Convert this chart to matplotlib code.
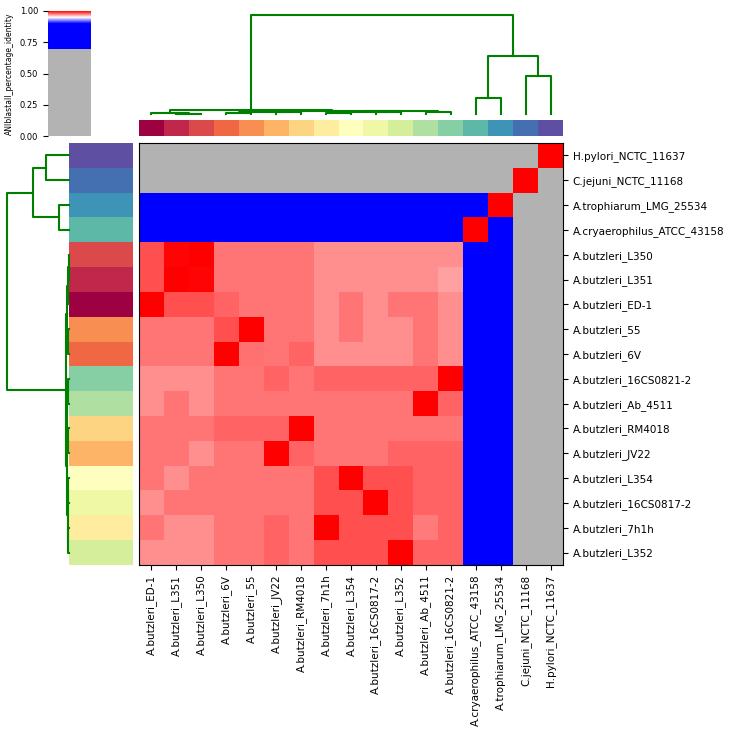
import numpy as np
import matplotlib
matplotlib.use("Agg")
import matplotlib.pyplot as plt
from matplotlib.colors import LinearSegmentedColormap, Normalize
from matplotlib.cm import ScalarMappable

# genome labels, in the order they appear on each axis
col_labels = [
    "A.butzleri_ED-1", "A.butzleri_L351", "A.butzleri_L350", "A.butzleri_6V",
    "A.butzleri_55", "A.butzleri_JV22", "A.butzleri_RM4018", "A.butzleri_7h1h",
    "A.butzleri_L354", "A.butzleri_16CS0817-2", "A.butzleri_L352",
    "A.butzleri_Ab_4511", "A.butzleri_16CS0821-2", "A.cryaerophilus_ATCC_43158",
    "A.trophiarum_LMG_25534", "C.jejuni_NCTC_11168", "H.pylori_NCTC_11637",
]
row_labels = [
    "H.pylori_NCTC_11637", "C.jejuni_NCTC_11168", "A.trophiarum_LMG_25534",
    "A.cryaerophilus_ATCC_43158", "A.butzleri_L350", "A.butzleri_L351",
    "A.butzleri_ED-1", "A.butzleri_55", "A.butzleri_6V", "A.butzleri_16CS0821-2",
    "A.butzleri_Ab_4511", "A.butzleri_RM4018", "A.butzleri_JV22",
    "A.butzleri_L354", "A.butzleri_16CS0817-2", "A.butzleri_7h1h",
    "A.butzleri_L352",
]

# ANIb percentage identity (rows x cols, as displayed)
G = 0.68
ani = [
    [G, G, G, G, G, G, G, G, G, G, G, G, G, G, G, G, 1.0],
    [G, G, G, G, G, G, G, G, G, G, G, G, G, G, G, 1.0, G],
    [0.78] * 13 + [0.80, 1.0, G, G],
    [0.79] * 13 + [1.0, 0.80, G, G],
    [0.984, 0.999, 1.0, 0.977, 0.977, 0.977, 0.977, 0.972, 0.972, 0.972, 0.972, 0.972, 0.972, 0.79, 0.78, G, G],
    [0.984, 1.0, 0.999, 0.977, 0.977, 0.977, 0.977, 0.972, 0.972, 0.972, 0.972, 0.972, 0.968, 0.79, 0.78, G, G],
    [1.0, 0.984, 0.984, 0.980, 0.977, 0.977, 0.977, 0.972, 0.977, 0.972, 0.977, 0.977, 0.972, 0.79, 0.78, G, G],
    [0.977, 0.977, 0.977, 0.984, 1.0, 0.977, 0.977, 0.972, 0.977, 0.972, 0.972, 0.977, 0.972, 0.79, 0.78, G, G],
    [0.977, 0.977, 0.977, 1.0, 0.978, 0.977, 0.980, 0.972, 0.972, 0.972, 0.972, 0.977, 0.972, 0.79, 0.78, G, G],
    [0.972, 0.972, 0.972, 0.977, 0.977, 0.980, 0.977, 0.980, 0.980, 0.980, 0.980, 0.980, 1.0, 0.79, 0.78, G, G],
    [0.972, 0.977, 0.972, 0.977, 0.977, 0.977, 0.977, 0.977, 0.977, 0.977, 0.977, 1.0, 0.980, 0.79, 0.78, G, G],
    [0.977, 0.977, 0.977, 0.980, 0.980, 0.980, 1.0, 0.977, 0.977, 0.977, 0.977, 0.977, 0.977, 0.79, 0.78, G, G],
    [0.977, 0.977, 0.972, 0.977, 0.977, 1.0, 0.980, 0.977, 0.977, 0.977, 0.980, 0.980, 0.980, 0.79, 0.78, G, G],
    [0.977, 0.972, 0.977, 0.977, 0.977, 0.977, 0.977, 0.984, 1.0, 0.984, 0.984, 0.980, 0.980, 0.79, 0.78, G, G],
    [0.972, 0.977, 0.977, 0.977, 0.977, 0.977, 0.977, 0.984, 0.984, 1.0, 0.984, 0.980, 0.980, 0.79, 0.78, G, G],
    [0.977, 0.972, 0.972, 0.977, 0.977, 0.980, 0.977, 1.0, 0.984, 0.984, 0.984, 0.976, 0.980, 0.79, 0.78, G, G],
    [0.972, 0.972, 0.972, 0.977, 0.977, 0.980, 0.977, 0.984, 0.984, 0.984, 1.0, 0.980, 0.980, 0.79, 0.78, G, G],
]

# dendrogram merges: (child, child, height); ints refer to earlier merges
col_tree = [
    ("A.butzleri_L351", "A.butzleri_L350", 0.003),
    ("A.butzleri_ED-1", 0, 0.012),
    ("A.butzleri_6V", "A.butzleri_55", 0.015),
    ("A.butzleri_JV22", "A.butzleri_RM4018", 0.018),
    (2, 3, 0.025),
    ("A.butzleri_7h1h", "A.butzleri_L354", 0.015),
    ("A.butzleri_16CS0817-2", "A.butzleri_L352", 0.016),
    (5, 6, 0.021),
    ("A.butzleri_Ab_4511", "A.butzleri_16CS0821-2", 0.02),
    (7, 8, 0.028),
    (4, 9, 0.034),
    (1, 10, 0.04),
    ("A.cryaerophilus_ATCC_43158", "A.trophiarum_LMG_25534", 0.162),
    ("C.jejuni_NCTC_11168", "H.pylori_NCTC_11637", 0.384),
    (12, 13, 0.586),
    (11, 14, 1.0),
]
row_tree = [
    ("H.pylori_NCTC_11637", "C.jejuni_NCTC_11168", 0.37),
    ("A.trophiarum_LMG_25534", "A.cryaerophilus_ATCC_43158", 0.16),
    (0, 1, 0.58),
    ("A.butzleri_L350", "A.butzleri_L351", 0.003),
    (3, "A.butzleri_ED-1", 0.012),
    ("A.butzleri_55", "A.butzleri_6V", 0.015),
    (4, 5, 0.03),
    ("A.butzleri_16CS0821-2", "A.butzleri_Ab_4511", 0.02),
    ("A.butzleri_RM4018", "A.butzleri_JV22", 0.018),
    (7, 8, 0.028),
    ("A.butzleri_L354", "A.butzleri_16CS0817-2", 0.015),
    ("A.butzleri_7h1h", "A.butzleri_L352", 0.016),
    (10, 11, 0.022),
    (9, 12, 0.034),
    (6, 13, 0.045),
    (2, 14, 1.0),
]

# pyani style colour map: grey < 0.7, blue to 0.9, white at 0.95, red at 1.0
cdict = {
    "red": ((0.0, 0.0, 0.7), (0.7, 0.7, 0.0), (0.9, 0.0, 0.0), (0.95, 1.0, 1.0), (1.0, 1.0, 1.0)),
    "green": ((0.0, 0.0, 0.7), (0.7, 0.7, 0.0), (0.9, 0.0, 0.0), (0.95, 1.0, 1.0), (1.0, 0.0, 0.0)),
    "blue": ((0.0, 0.0, 0.7), (0.7, 0.7, 1.0), (0.95, 1.0, 1.0), (1.0, 0.0, 0.0)),
}
cmap = LinearSegmentedColormap("spbnd_BuRd", cdict, N=2048)

W, H = 729, 736
fig = plt.figure(figsize=(W / 100, H / 100), dpi=100)


def px_axes(x0, y0, x1, y1):
    return fig.add_axes([x0 / W, 1 - y1 / H, (x1 - x0) / W, (y1 - y0) / H])


def draw_tree(ax, tree, order, side):
    pos = {lab: i + 0.5 for i, lab in enumerate(order)}
    npos, nh = [], []
    for a, b, h in tree:
        pa, ha = (npos[a], nh[a]) if isinstance(a, int) else (pos[a], 0.0)
        pb, hb = (npos[b], nh[b]) if isinstance(b, int) else (pos[b], 0.0)
        p = [pa, pa, pb, pb]
        d = [ha, h, h, hb]
        if side == "top":
            ax.plot(p, d, c="green", lw=1.5, clip_on=False)
        else:
            ax.plot(d, p, c="green", lw=1.5, clip_on=False)
        npos.append((pa + pb) / 2)
        nh.append(h)


n = len(col_labels)
spectral = plt.cm.Spectral(np.linspace(0, 1, n))
colour_of = {lab: spectral[i] for i, lab in enumerate(col_labels)}

# heatmap
ax = px_axes(139, 143, 563, 565)
ax.imshow(np.array(ani), cmap=cmap, vmin=0, vmax=1, aspect="auto", interpolation="nearest")
ax.set_xticks(range(n))
ax.set_xticklabels(col_labels, rotation=90, fontsize=7.5)
ax.set_yticks(range(n))
ax.set_yticklabels(row_labels, fontsize=7.5)
ax.yaxis.tick_right()

# column colour strip
axc = px_axes(139, 120, 563, 136)
axc.imshow(np.array([[colour_of[l] for l in col_labels]]), aspect="auto", interpolation="nearest")
axc.set_axis_off()

# row colour strip
axr = px_axes(69, 143, 133, 565)
axr.imshow(np.array([[colour_of[l]] for l in row_labels]), aspect="auto", interpolation="nearest")
axr.set_axis_off()

# top dendrogram
axt = px_axes(139, 10, 563, 114)
draw_tree(axt, col_tree, col_labels, "top")
axt.set_xlim(0, n)
axt.set_ylim(0, 1.05)
axt.set_axis_off()

# left dendrogram
axl = px_axes(3, 143, 69, 565)
draw_tree(axl, row_tree, row_labels, "left")
axl.set_ylim(n, 0)
axl.set_xlim(1.065, 0)
axl.set_axis_off()

# colour bar
cax = px_axes(48, 11, 91, 136)
cb = fig.colorbar(ScalarMappable(norm=Normalize(0, 1), cmap=cmap), cax=cax)
cb.outline.set_visible(False)
cb.set_ticks([0.0, 0.25, 0.5, 0.75, 1.0])
cax.yaxis.set_ticks_position("left")
cax.yaxis.set_label_position("left")
cax.tick_params(labelsize=6)
cb.set_label("ANIblastall_percentage_identity", fontsize=5.5)

fig.savefig("out.png", dpi=100)
